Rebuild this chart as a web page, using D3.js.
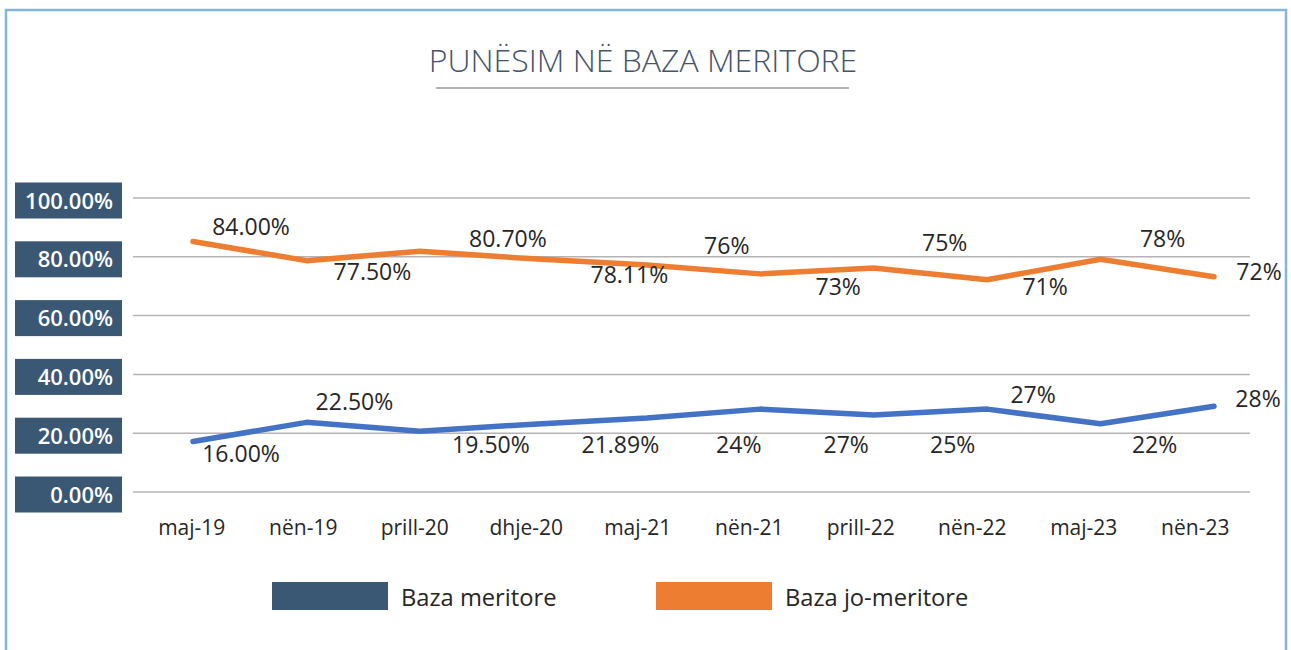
<!DOCTYPE html>
<html>
<head>
<meta charset="utf-8">
<script src="https://cdn.jsdelivr.net/npm/d3@7"></script>
<style>
  body { margin: 0; background: #fff; }
  svg { display: block; font-family: "Open Sans", sans-serif; }
</style>
</head>
<body>
<div id="chart"></div>
<script>
// categories and series values
const months = ["maj-19", "nën-19", "prill-20", "dhje-20", "maj-21", "nën-21", "prill-22", "nën-22", "maj-23", "nën-23"];
const meritore = [16, 22.5, 19.5, 21.89, 24, 27, 25, 27, 22, 28];
const joMeritore = [84, 77.5, 80.7, 78.11, 76, 73, 75, 71, 78, 72];
const meritoreLabels = ["16.00%", "22.50%", "19.50%", "21.89%", "24%", "27%", "25%", "27%", "22%", "28%"];
const joMeritoreLabels = ["84.00%", "77.50%", "80.70%", "78.11%", "76%", "73%", "75%", "71%", "78%", "72%"];
const yTicks = [0, 20, 40, 60, 80, 100];
const seriesNames = ["Baza meritore", "Baza jo-meritore"];

// label placement (pixel offsets from the point), as in the original
const meritoreOffsets = [[48, 17], [48, -16], [71, 18], [87, 25], [92, 32], [86, 40], [79, 34], [46, -10], [54, 26], [44, -3]];
const joMeritoreOffsets = [[58, -10], [66, 16], [88, -8], [96, 21], [80, -15], [78, 18], [71, -21], [58, 12], [62, -16], [45, 0]];

const width = 1291, height = 650;
const svg = d3.select("#chart").append("svg")
    .attr("width", width)
    .attr("height", height);

// outer frame (light blue, open at the bottom)
svg.append("path")
    .attr("d", "M6,660 V10 H1286 V660")
    .attr("fill", "none")
    .attr("stroke", "#86b6d9")
    .attr("stroke-width", 2.5);

// title
svg.append("text")
    .attr("x", 643)
    .attr("y", 72)
    .attr("text-anchor", "middle")
    .attr("font-size", 32)
    .attr("font-weight", 300)
    .attr("fill", "#44546a")
    .text("PUNËSIM NË BAZA MERITORE");

svg.append("line")
    .attr("x1", 436).attr("x2", 849)
    .attr("y1", 88).attr("y2", 88)
    .attr("stroke", "#9a9a9a")
    .attr("stroke-width", 1.5);

// scales
const y = d3.scaleLinear().domain([0, 100]).range([492, 198]);
const xBand = d3.scaleBand().domain(months).range([136, 1251]);
const xPoint = d3.scalePoint().domain(months).range([193, 1214]);

// gridlines
svg.append("g")
    .selectAll("line")
    .data(yTicks)
    .enter().append("line")
    .attr("x1", 133).attr("x2", 1250)
    .attr("y1", d => y(d)).attr("y2", d => y(d))
    .attr("stroke", "#b4b4b4")
    .attr("stroke-width", 1.5);

// y axis labels in dark boxes
const yLab = svg.append("g")
    .selectAll("g")
    .data(yTicks)
    .enter().append("g")
    .attr("transform", d => `translate(0,${y(d) + 2.5})`);

yLab.append("rect")
    .attr("x", 15).attr("y", -18)
    .attr("width", 107).attr("height", 36)
    .attr("fill", "#3a5874");

yLab.append("text")
    .attr("x", 113)
    .attr("y", 8)
    .attr("text-anchor", "end")
    .attr("font-size", 22)
    .attr("font-weight", 600)
    .attr("fill", "#fff")
    .text(d => d.toFixed(2) + "%");

// x axis labels
svg.append("g")
    .selectAll("text")
    .data(months)
    .enter().append("text")
    .attr("x", d => xBand(d) + xBand.bandwidth() / 2)
    .attr("y", 535)
    .attr("text-anchor", "middle")
    .attr("font-size", 21)
    .attr("fill", "#262626")
    .text(d => d);

// lines
const series = [
    {values: meritore, labels: meritoreLabels, offsets: meritoreOffsets, color: "#4472c4"},
    {values: joMeritore, labels: joMeritoreLabels, offsets: joMeritoreOffsets, color: "#ed7d31"}
];

const line = d3.line()
    .x((d, i) => xPoint(months[i]))
    .y(d => y(d));

const lines = svg.append("g").attr("transform", "translate(0,-3.5)");
series.forEach(s => {
    lines.append("path")
        .datum(s.values)
        .attr("d", line)
        .attr("fill", "none")
        .attr("stroke", s.color)
        .attr("stroke-width", 5.5)
        .attr("stroke-linecap", "round")
        .attr("stroke-linejoin", "round");
});

// data labels
series.forEach(s => {
    svg.append("g")
        .selectAll("text")
        .data(s.values)
        .enter().append("text")
        .attr("x", (d, i) => xPoint(months[i]) + s.offsets[i][0])
        .attr("y", (d, i) => y(d) + s.offsets[i][1])
        .attr("text-anchor", "middle")
        .attr("font-size", 23)
        .attr("fill", "#262626")
        .text((d, i) => s.labels[i]);
});

// legend
const legendColors = ["#3a5874", "#ed7d31"];
const legendX = [272, 656];
const legend = svg.append("g")
    .selectAll("g")
    .data(seriesNames)
    .enter().append("g")
    .attr("transform", (d, i) => `translate(${legendX[i]},582)`);

legend.append("rect")
    .attr("width", 116).attr("height", 28)
    .attr("fill", (d, i) => legendColors[i]);

legend.append("text")
    .attr("x", 129)
    .attr("y", 24)
    .attr("font-size", 23.7)
    .attr("fill", "#262626")
    .text(d => d);
</script>
</body>
</html>
